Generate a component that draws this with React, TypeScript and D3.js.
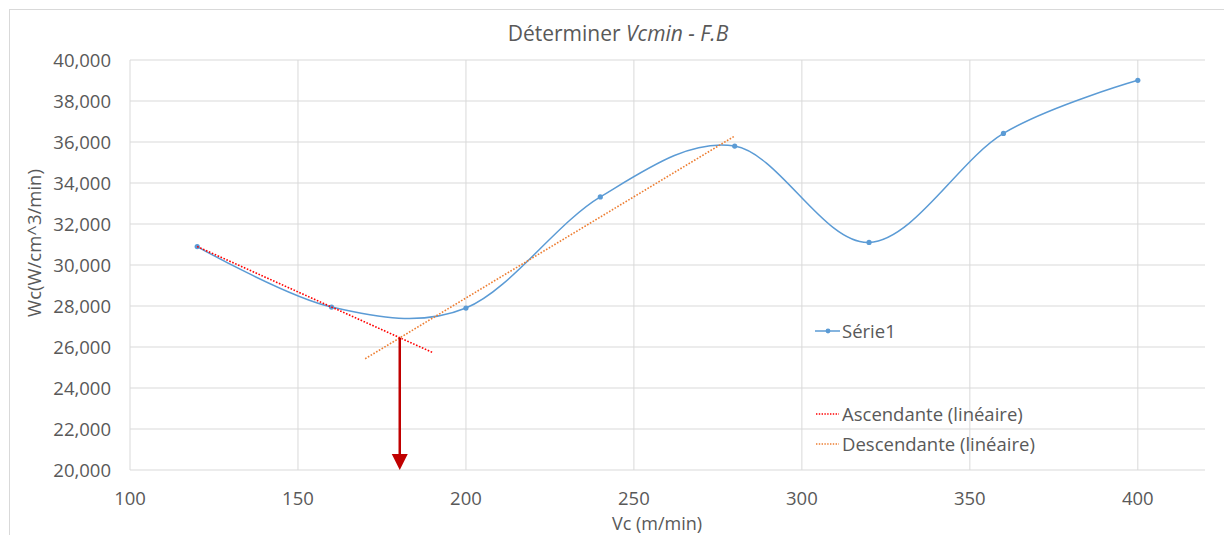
import React from 'react';
import * as d3 from 'd3';

// Série1 values
const vc = [120, 160, 200, 240, 280, 320, 360, 400];
const wc = [30900, 27950, 27900, 33320, 35800, 31100, 36420, 39010];

// indices used by each Excel linear trendline, with forward/backward forecast
const ascIdx = [0, 1];
const descIdx = [2, 3, 4];
const ascRange: [number, number] = [120, 190];
const descRange: [number, number] = [170, 280];

const xTicks = [100, 150, 200, 250, 300, 350, 400];
const yTicks = [20000, 22000, 24000, 26000, 28000, 30000, 32000, 34000, 36000, 38000, 40000];

const W = 1224;
const H = 535;
const M = { left: 130, right: 1205, top: 60, bottom: 470 };
const FONT = '"Open Sans", "Liberation Sans", sans-serif';
const TEXT = '#595959';
const GRID = '#d9d9d9';
const BLUE = '#5b9bd5';

const fit = (idx: number[]) => {
  const xs = idx.map(i => vc[i]);
  const ys = idx.map(i => wc[i]);
  const mx = d3.mean(xs) as number;
  const my = d3.mean(ys) as number;
  let num = 0;
  let den = 0;
  xs.forEach((x, i) => {
    num += (x - mx) * (ys[i] - my);
    den += (x - mx) * (x - mx);
  });
  const b = num / den;
  return (x: number) => my + b * (x - mx);
};

const App: React.FC = () => {
  const x = d3.scaleLinear().domain([100, 420]).range([M.left, M.right]);
  const y = d3.scaleLinear().domain([20000, 40000]).range([M.bottom, M.top]);

  const pts: [number, number][] = vc.map((v, i) => [x(v), y(wc[i])]);
  const line = d3.line().curve(d3.curveCardinal.tension(0));

  const asc = fit(ascIdx);
  const desc = fit(descIdx);

  // intersection of the two trendlines -> Vc min
  let xi = ascRange[0];
  let best = Infinity;
  for (let v = 150; v <= 200; v += 0.1) {
    const d = Math.abs(asc(v) - desc(v));
    if (d < best) { best = d; xi = v; }
  }
  const yi = asc(xi);

  const arrowX = x(xi);
  const arrowTop = y(yi);
  const arrowEnd = M.bottom;

  return (
    <div style={{ position: 'absolute', left: 0, top: 0 }}>
      <svg width={W} height={H} style={{ display: 'block', fontFamily: FONT }}>
        <rect x={0} y={0} width={W} height={H} fill="#fff" />
        <rect x={9.5} y={9.5} width={W + 10} height={H + 10} fill="none" stroke={GRID} />

        <text x={618} y={41} textAnchor="middle" fontSize={21} fill={TEXT}>
          Déterminer <tspan fontStyle="italic">Vcmin - F.B</tspan>
        </text>

        {/* grid */}
        {yTicks.map(t => (
          <line key={'gy' + t} x1={M.left} x2={M.right} y1={y(t)} y2={y(t)} stroke={GRID} strokeWidth={1} />
        ))}
        {xTicks.map(t => (
          <line key={'gx' + t} x1={x(t)} x2={x(t)} y1={M.top} y2={M.bottom} stroke={GRID} strokeWidth={1} />
        ))}

        {/* tick labels */}
        {yTicks.map(t => (
          <text key={'ty' + t} x={111} y={y(t) + 6.5} textAnchor="end" fontSize={18.5} fill={TEXT}>
            {d3.format(',')(t)}
          </text>
        ))}
        {xTicks.map(t => (
          <text key={'tx' + t} x={x(t)} y={505} textAnchor="middle" fontSize={18.5} fill={TEXT}>
            {t}
          </text>
        ))}

        <text x={657} y={530} textAnchor="middle" fontSize={18} fill={TEXT}>Vc (m/min)</text>
        <text transform="translate(41, 243) rotate(-90)" textAnchor="middle" fontSize={18.5} fill={TEXT}>
          Wc(W/cm^3/min)
        </text>

        {/* series */}
        <path d={line(pts) || ''} fill="none" stroke={BLUE} strokeWidth={1.5} />
        {pts.map((p, i) => (
          <circle key={'p' + i} cx={p[0]} cy={p[1]} r={2.6} fill={BLUE} />
        ))}

        {/* trendlines */}
        <line x1={x(ascRange[0])} y1={y(asc(ascRange[0]))} x2={x(ascRange[1])} y2={y(asc(ascRange[1]))}
          stroke="#ff0000" strokeWidth={1.6} strokeDasharray="1.6 1.6" />
        <line x1={x(descRange[0])} y1={y(desc(descRange[0]))} x2={x(descRange[1])} y2={y(desc(descRange[1]))}
          stroke="#ed7d31" strokeWidth={1.6} strokeDasharray="1.6 1.6" />

        {/* arrow */}
        <line x1={arrowX} x2={arrowX} y1={arrowTop} y2={arrowEnd - 14} stroke="#c00000" strokeWidth={2.5} />
        <path d={`M${arrowX - 8},${arrowEnd - 16} L${arrowX + 8},${arrowEnd - 16} L${arrowX},${arrowEnd} Z`} fill="#c00000" />

        {/* legend */}
        <line x1={815} x2={840} y1={331} y2={331} stroke={BLUE} strokeWidth={1.5} />
        <circle cx={828} cy={331} r={2.4} fill={BLUE} />
        <text x={842} y={338} fontSize={18.5} fill={TEXT}>Série1</text>

        <line x1={816} x2={839} y1={414} y2={414} stroke="#ff0000" strokeWidth={1.4} strokeDasharray="1.4 1.4" />
        <text x={842} y={421} fontSize={18.5} fill={TEXT}>Ascendante (linéaire)</text>

        <line x1={816} x2={839} y1={444} y2={444} stroke="#ed7d31" strokeWidth={1.4} strokeDasharray="1.4 1.4" />
        <text x={842} y={451} fontSize={18.5} fill={TEXT}>Descendante (linéaire)</text>
      </svg>
    </div>
  );
};

export default App;
